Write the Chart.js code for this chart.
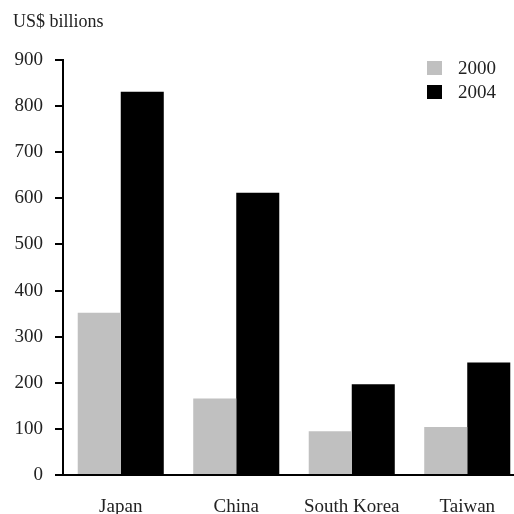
<!DOCTYPE html>
<html>
<head>
<meta charset="utf-8">
<script src="https://cdn.jsdelivr.net/npm/chart.js@4"></script>
<style>
  html, body { margin: 0; padding: 0; background: #fff; overflow: hidden; }
  #wrap { width: 530px; height: 514px; }
</style>
</head>
<body>
<div id="wrap"><canvas id="myChart" width="530" height="514"></canvas></div>
<script>
let countries = ['Japan', 'China', 'South Korea', 'Taiwan']
let values2000 = [352, 166, 95, 104]
let values2004 = [831, 612, 197, 244]
let yTicks = [0, 100, 200, 300, 400, 500, 600, 700, 800, 900]
let unitLabel = 'US$ billions'

let fontFamily = '"Liberation Serif", "Times New Roman", serif'

// title top-left and the little legend box on the right
let extraText = {
    id: 'extraText',
    afterDraw(chart){
        let ctx = chart.ctx
        ctx.save()
        ctx.fillStyle = '#222'
        ctx.font = '18px ' + fontFamily
        ctx.textBaseline = 'middle'
        ctx.textAlign = 'left'
        ctx.fillText(unitLabel, 13, 22)

        let sets = chart.data.datasets
        for (let i = 0; i < sets.length; i++){
            let y = 68 + i * 24
            ctx.fillStyle = sets[i].backgroundColor
            ctx.fillRect(427, y - 7, 15, 14)
            ctx.fillStyle = '#222'
            ctx.font = '19px ' + fontFamily
            ctx.fillText(sets[i].label, 458, y + 1)
        }
        ctx.restore()
    }
}

let ctx = document.getElementById('myChart').getContext('2d')
let chart = new Chart(ctx, {
    type: 'bar',
    data: {
        labels: countries,
        datasets: [{
            label: '2000',
            data: values2000,
            backgroundColor: '#c0c0c0'
        }, {
            label: '2004',
            data: values2004,
            backgroundColor: '#000000'
        }]
    },
    options: {
        responsive: false,
        animation: false,
        layout: { padding: { left: 0, right: 5, top: 60, bottom: 0 } },
        categoryPercentage: 0.745,
        barPercentage: 1.0,
        plugins: {
            legend: { display: false },
            tooltip: { enabled: false }
        },
        scales: {
            x: {
                grid: { display: false },
                border: { display: true, color: '#000', width: 2 },
                ticks: {
                    color: '#222',
                    padding: 13,
                    font: { family: fontFamily, size: 19 }
                },
                afterFit(scale){ scale.height = 39 }
            },
            y: {
                min: 0,
                max: 900,
                afterBuildTicks(scale){
                    scale.ticks = yTicks.map(v => ({ value: v }))
                },
                grid: {
                    display: true,
                    drawOnChartArea: false,
                    drawTicks: true,
                    tickLength: 8,
                    color: '#000',
                    lineWidth: 2
                },
                border: { display: true, color: '#000', width: 2 },
                ticks: {
                    color: '#222',
                    padding: 12,
                    font: { family: fontFamily, size: 19 }
                },
                afterFit(scale){ scale.width = 63 }
            }
        }
    },
    plugins: [extraText]
})
</script>
</body>
</html>
